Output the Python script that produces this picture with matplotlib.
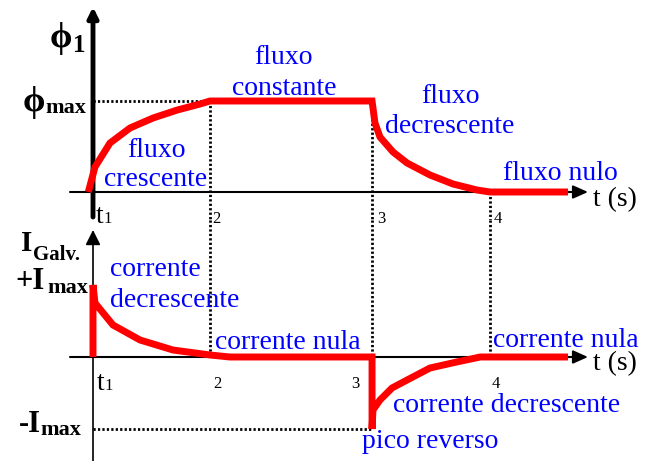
import matplotlib.pyplot as plt

# instantes marcados no eixo (esquematicos: t1, 2, 3, 4)
t_marks = [1.0, 2.0, 3.385, 4.393]
t_labels = ['t', '2', '3', '4']

# fluxo magnetico phi_1 (em unidades de phi_max)
flux_t = [0.96, 1.017, 1.145, 1.316, 1.513, 1.718, 1.915, 2.0, 3.385, 3.41,
          3.453, 3.564, 3.684, 3.88, 4.077, 4.282, 4.393, 5.06]
flux_v = [0.0, 0.275, 0.538, 0.703, 0.813, 0.90, 0.967, 1.0, 1.0, 0.758,
          0.604, 0.44, 0.319, 0.187, 0.088, 0.022, 0.0, 0.0]

# corrente no galvanometro (em unidades de I_max)
cur_t = [1.0, 1.0, 1.017, 1.171, 1.402, 1.684, 2.0, 2.17, 3.385, 3.385, 3.393,
         3.453, 3.556, 3.684, 3.88, 4.11, 4.31, 5.06]
cur_v = [0.0, 1.0, 0.75, 0.444, 0.236, 0.097, 0.028, 0.0, 0.0, -1.0, -0.736,
         -0.597, -0.43, -0.32, -0.153, -0.069, 0.0, 0.0]

W, H = 645, 461
SERIF = ['Liberation Serif', 'DejaVu Serif']

fig = plt.figure(figsize=(W / 100, H / 100), dpi=100)


def px(x, y):
    # posicao em pixels (a partir do canto superior esquerdo) -> fracao da figura
    return x / W, 1 - y / H


split = 220
ax1 = fig.add_axes([0, 1 - split / H, 1, split / H])
ax2 = fig.add_axes([0, 0, 1, 1 - split / H])
xlim = (1 - 93 / 117, 1 + 552 / 117)
ax1.set_xlim(xlim)
ax1.set_ylim(-28 / 91, 192 / 91)
ax2.set_xlim(xlim)
ax2.set_ylim(-104 / 72, 137 / 72)
for ax in (ax1, ax2):
    ax.axis('off')


def arrow(ax, p0, p1, lw, hl, hw):
    ax.annotate('', xy=p1, xytext=p0,
                arrowprops=dict(arrowstyle=f'-|>,head_length={hl},head_width={hw}',
                                lw=lw, color='black', shrinkA=0, shrinkB=0,
                                mutation_scale=1))


x_start = 1 + (70 - 93) / 117
x_end = 1 + (588 - 93) / 117

# eixos
arrow(ax1, (x_start, 0), (x_end, 0), 1.5, 9, 4)
arrow(ax1, (1.0, -0.275), (1.0, 2.033), 3.5, 6, 3)
arrow(ax2, (x_start, 0), (x_end, 0), 1.5, 9, 4)
arrow(ax2, (1.0, -1.444), (1.0, 1.764), 1.2, 9, 4.5)

# linhas pontilhadas de referencia
dot = dict(color='black', lw=2.0, linestyle=(0, (0.8, 0.8)), zorder=2)
bottom1 = ax1.get_ylim()[0]
top2 = ax2.get_ylim()[1]
ax1.plot([t_marks[0], t_marks[1]], [1, 1], **dot)
ax1.plot([t_marks[1], t_marks[1]], [1, bottom1], **dot)
ax1.plot([t_marks[2], t_marks[2]], [1, bottom1], **dot)
ax1.plot([t_marks[3], t_marks[3]], [0, bottom1], **dot)
for t in t_marks[1:]:
    ax2.plot([t, t], [top2, 0], **dot)
ax2.plot([t_marks[0], t_marks[2]], [-1, -1], **dot)

# curvas
red = dict(color='red', lw=5, solid_joinstyle='miter', solid_capstyle='butt', zorder=5)
ax1.plot(flux_t, flux_v, **red)
ax2.plot(cur_t, cur_v, **red)

# rotulos dos instantes
top_off = [(3, -31), (2, -31), (5, -31), (4, -31)]
bot_off = [(4, -33), (3, -31), (-21, -31), (2, -31)]
for ax, offs in ((ax1, top_off), (ax2, bot_off)):
    for t, lab, (dx, dy) in zip(t_marks, t_labels, offs):
        size = 20 if lab == 't' else 12
        ax.annotate(lab, xy=(t, 0), xytext=(dx * 0.72, dy * 0.72),
                    textcoords='offset points', ha='left', va='baseline',
                    fontsize=size, family=SERIF)
        if lab == 't':
            ax.annotate('1', xy=(t, 0), xytext=((dx + 7) * 0.72, dy * 0.72),
                        textcoords='offset points', ha='left', va='baseline',
                        fontsize=12, family=SERIF)

# t (s)
fig.text(*px(593, 206), 't (s)', fontsize=20, family=SERIF, va='baseline')
fig.text(*px(593, 370), 't (s)', fontsize=20, family=SERIF, va='baseline')

# rotulos dos eixos verticais
bold = dict(family=SERIF, fontweight='bold', va='baseline', ha='left')
fig.text(*px(50, 47), 'ϕ', fontsize=26, **bold)
fig.text(*px(73, 52), '1', fontsize=18, **bold)
fig.text(*px(23, 111), 'ϕ', fontsize=26, **bold)
fig.text(*px(45, 113), 'max', fontsize=16, **bold)
fig.text(*px(21, 251), 'I', fontsize=21, **bold)
fig.text(*px(33, 260), 'Galv.', fontsize=15, **bold)
fig.text(*px(15, 289), '+I', fontsize=22, **bold)
fig.text(*px(47, 293), 'max', fontsize=16, **bold)
fig.text(*px(19, 432), '-I', fontsize=22, **bold)
fig.text(*px(40, 435), 'max', fontsize=16, **bold)

# descricoes em azul
blue_labels = [
    ('fluxo', 156, 157, 'center'),
    ('crescente', 156, 186, 'center'),
    ('fluxo', 283, 64, 'center'),
    ('constante', 284, 95, 'center'),
    ('fluxo', 450, 103, 'center'),
    ('decrescente', 450, 133, 'center'),
    ('fluxo nulo', 560, 180, 'center'),
    ('corrente', 110, 276, 'left'),
    ('decrescente', 110, 307, 'left'),
    ('corrente nula', 215, 349, 'left'),
    ('corrente nula', 493, 347, 'left'),
    ('corrente decrescente', 393, 412, 'left'),
    ('pico reverso', 362, 448, 'left'),
]
for text, x, y, ha in blue_labels:
    fig.text(*px(x, y), text, color='blue', fontsize=20, family=SERIF,
             ha=ha, va='baseline')

fig.savefig('out.png', dpi=100)
